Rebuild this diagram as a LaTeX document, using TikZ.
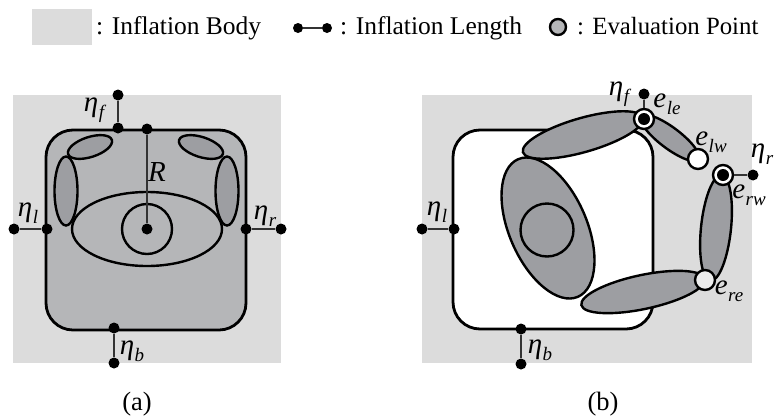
\documentclass[tikz,border=0pt]{standalone}
\usepackage{fontspec}
\setmainfont{Liberation Serif}
\newcommand{\symb}[2]{{\itshape #1\kern0.5pt\raisebox{-0.24em}{\fontsize{19}{20}\selectfont #2}}}
\tikzset{
  pane/.style={fill=panelgray,draw=none},
  bodyline/.style={draw=black,line width=2.8pt,rounded corners=27pt},
  lobe/.style={draw=black,line width=2.4pt,fill=lobegray},
  soft/.style={draw=black,line width=2.4pt,fill=bodygray},
  dot/.style={circle,fill=black,inner sep=0pt,minimum size=11pt},
  joint/.style={circle,draw=black,fill=white,line width=2.4pt,inner sep=0pt,minimum size=20pt},
  link/.style={draw=linkgray,line width=1.1pt},
  lab/.style={inner sep=0pt,font=\fontsize{29}{31}\selectfont},
  legendtext/.style={inner sep=0pt,anchor=west,font=\fontsize{25.5}{28}\selectfont},
  captiontext/.style={inner sep=0pt,font=\fontsize{26.5}{29}\selectfont},
}
\definecolor{panelgray}{HTML}{DCDCDC}
\definecolor{bodygray}{HTML}{B5B6B8}
\definecolor{lobegray}{HTML}{9D9EA2}
\definecolor{linkgray}{HTML}{333333}
\begin{document}
\begin{tikzpicture}[x=1pt,y=-1pt]
\useasboundingbox (0,0) rectangle (775,418);
% legend
\fill[pane] (32,9) rectangle (92,45);
\node[legendtext] (t1) at (96,28) {: Inflation Body};
\node[dot,minimum size=10pt] (l1) at (298,28) {};
\node[dot,minimum size=10pt] (l2) at (327,28) {};
\draw[link] (l1) -- (l2);
\node[legendtext] (t2) at (340,28) {: Inflation Length};
\node[circle,draw=black,fill=bodygray,line width=2.4pt,minimum size=16pt,inner sep=0pt] (l3) at (558,27) {};
\node[legendtext,font=\fontsize{24.8}{27}\selectfont] (t3) at (577,26) {: Evaluation Point};
% panel a
\fill[pane] (13,95) rectangle (281,363);
\draw[bodyline,fill=bodygray] (46,130) rectangle (246,330);
\draw[lobe] (90,147) ellipse[x radius=23,y radius=10,rotate=18];
\draw[lobe] (201,147) ellipse[x radius=23,y radius=10,rotate=-18];
\draw[lobe] (66,191) ellipse[x radius=11.5,y radius=34.5];
\draw[lobe] (227,191) ellipse[x radius=11.5,y radius=34.5];
\draw[soft] (147,229) ellipse[x radius=75,y radius=37];
\draw[soft] (147,229) circle[radius=25];
\node[dot] (af1) at (118,95) {};
\node[dot] (af2) at (118,128) {};
\node[dot] (ar1) at (147,129) {};
\node[dot] (ar2) at (147,229) {};
\node[dot] (al1) at (14,229) {};
\node[dot] (al2) at (47,229) {};
\node[dot] (ae1) at (246,229) {};
\node[dot] (ae2) at (281,229) {};
\node[dot] (ab1) at (114,328) {};
\node[dot] (ab2) at (114,363) {};
\draw[link] (af1) -- (af2);
\draw[link] (ar1) -- (ar2);
\draw[link] (al1) -- (al2);
\draw[link] (ae1) -- (ae2);
\draw[link] (ab1) -- (ab2);
\node[lab] at (94,110) {\symb{η}{f}};
\node[lab] at (157,172) {\itshape R};
\node[lab] at (28,213) {\symb{η}{l}};
\node[lab] at (265,216) {\symb{η}{r}};
\node[lab] at (132,351) {\symb{η}{b}};
\node[captiontext] at (137,404) {(a)};
% panel b
\fill[pane] (422,95) rectangle (752,363);
\draw[bodyline,fill=white] (453,130) rectangle (653,329);
\draw[lobe] (548,228) ellipse[x radius=75,y radius=38.8,rotate=-66.5];
\draw[lobe] (547,230) circle[radius=26.5];
\draw[lobe] (583,135) ellipse[x radius=62.5,y radius=17,rotate=16];
\draw[lobe] (670,138) ellipse[x radius=36,y radius=10.5,rotate=-37];
\draw[lobe] (643,292) ellipse[x radius=63,y radius=17,rotate=12];
\draw[lobe] (716,228) ellipse[x radius=53,y radius=15,rotate=84];
\node[joint] (jle) at (644,119) {};
\node[joint] (jlw) at (698,159) {};
\node[joint] (jrw) at (723,175) {};
\node[joint,fill=panelgray!50!white] (jre) at (705,280) {};
\node[dot,minimum size=12pt] (ble) at (644,119) {};
\node[dot,minimum size=12pt] (brw) at (723,175) {};
\node[dot] (bf) at (644,94) {};
\node[dot] (br) at (753,175) {};
\node[dot] (bl1) at (422,229) {};
\node[dot] (bl2) at (454,229) {};
\node[dot] (bb1) at (521,329) {};
\node[dot] (bb2) at (521,364) {};
\draw[link] (bf) -- (jle);
\draw[link] (br) -- (jrw);
\draw[link] (bl1) -- (bl2);
\draw[link] (bb1) -- (bb2);
\node[lab] at (437,212) {\symb{η}{l}};
\node[lab] at (619,94) {\symb{η}{f}};
\node[lab] at (667,104) {\symb{e}{le}};
\node[lab] at (711,142) {\symb{e}{lw}};
\node[lab] at (762,154) {\symb{η}{r}};
\node[lab] at (749,195) {\symb{e}{rw}};
\node[lab] at (729,291) {\symb{e}{re}};
\node[lab] at (540,350) {\symb{η}{b}};
\node[captiontext] at (603,404) {(b)};
\end{tikzpicture}
\end{document}
